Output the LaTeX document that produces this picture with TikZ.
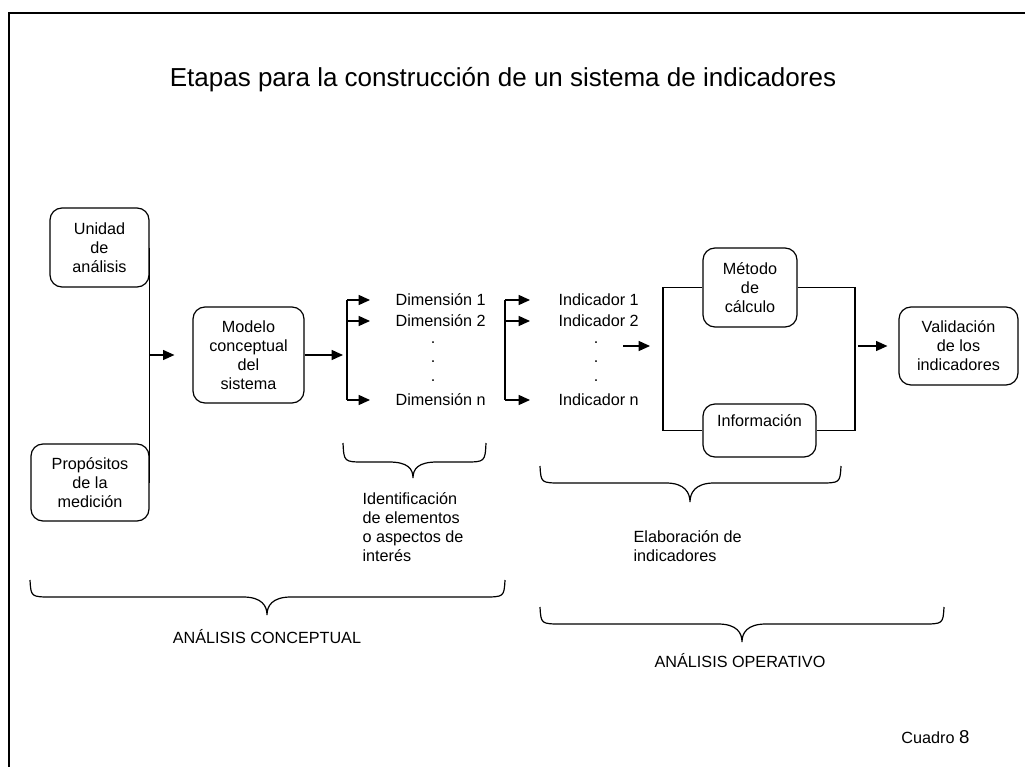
\documentclass[tikz,border=0pt]{standalone}
\usepackage{fontspec}
\setmainfont{Liberation Sans}
\usetikzlibrary{arrows.meta}
\newcommand{\bodyfont}{\fontsize{12.15}{14.3}\selectfont}
% x1, x2, xtip, ytop, ymid, ytip
\newcommand{\curlybrace}[6]{%
  \draw (#1,#4) .. controls (#1+1,#5) .. (#1+22,#5) -- (#3-24,#5)
    .. controls (#3-5,#5) and (#3,#6-9) .. (#3,#6)
    .. controls (#3,#6-9) and (#3+5,#5) .. (#3+24,#5) -- (#2-22,#5)
    .. controls (#2-1,#5) .. (#2,#4);}
\begin{document}
\begin{tikzpicture}[x=0.75pt, y=-0.75pt, line width=0.9pt,
    >={Triangle[length=8.5pt,width=7.5pt]},
    box/.style={draw, rounded corners=9pt, align=center, inner sep=0pt, font=\bodyfont},
    lbl/.style={inner sep=0pt, font=\bodyfont},
    arr/.style={->}]
\useasboundingbox (0,0) rectangle (1025,767);
\draw (9,767) -- (9,13) -- (1025,13);
\node[font=\fontsize{19.5}{23}\selectfont] (title) at (503,80) {Etapas para la construcción de un sistema de indicadores};

\node[box, minimum width=74.25pt, minimum height=59.25pt] (unidad) at (99.5,247.5) {Unidad\\de\\análisis};
\node[box, minimum width=88.5pt, minimum height=57.75pt] (propositos) at (90,482.5) {Propósitos\\de la\\medición};
\node[box, minimum width=83.25pt, minimum height=72pt] (modelo) at (248.5,355) {Modelo\\conceptual\\del\\sistema};
\node[box, minimum width=70.5pt, minimum height=59.25pt] (metodo) at (750,287.5) {Método\\de\\cálculo};
\node[box, minimum width=84.75pt, minimum height=39.75pt] (info) at (759.5,430.5) {Información\\\mbox{}};
\node[box, minimum width=89.25pt, minimum height=58.5pt] (validacion) at (958.5,346) {Validación\\de los\\indicadores};

\draw (unidad.east) -- (propositos.east);
\coordinate (join) at (149,355);
\draw[arr, shorten >=13.5pt] (join) -- (modelo.west);

% dimensiones
\node[lbl, anchor=west] (dim1) at (395,300) {Dimensión 1};
\node[lbl, anchor=west] (dim2) at (395,321) {Dimensión 2};
\node[lbl, anchor=west] (dimn) at (395,400) {Dimensión n};
\foreach \y in {343,362,381}
{
    \node[lbl] (ddot\y) at (433,\y) {.};
}
\coordinate (dimbar) at (347,355);
\draw[arr, shorten >=3pt] (modelo.east) -- (dimbar);
\draw (dimbar |- dim1.west) -- (dimbar |- dimn.west);
\foreach \d in {dim1,dim2,dimn}
{
    \draw[arr, shorten >=18.75pt] (dimbar |- \d.west) -- (\d.west);
}

% indicadores
\node[lbl, anchor=west] (ind1) at (558,300) {Indicador 1};
\node[lbl, anchor=west] (ind2) at (558,321) {Indicador 2};
\node[lbl, anchor=west] (indn) at (558,400) {Indicador n};
\foreach \y in {343,362,381}
{
    \node[lbl] (idot\y) at (596,\y) {.};
}
\coordinate (indbar) at (505,355);
\draw (indbar |- ind1.west) -- (indbar |- indn.west);
\foreach \d in {ind1,ind2,indn}
{
    \draw[arr, shorten >=21pt] (indbar |- \d.west) -- (\d.west);
}
\coordinate (indout) at (623,346);
\coordinate (rectw) at (663,346);
\draw[arr, shorten >=9.75pt] (indout) -- (rectw);

\draw (metodo.west) -| (663,430.5) -- (info.west);
\draw (metodo.east) -| (855,430.5) -- (info.east);
\coordinate (rectout) at (858,346);
\draw[arr, shorten >=8.25pt] (rectout) -- (validacion.west);

% llaves
\curlybrace{343}{486}{413}{443}{462}{478}
\curlybrace{540}{841}{690}{466}{483}{502}
\curlybrace{30}{505}{267}{580}{597}{615}
\curlybrace{540}{944}{742}{607}{624}{642}

\node[lbl, align=left, anchor=west] (ident) at (362,527) {Identificación\\de elementos\\o aspectos de\\interés};
\node[lbl, align=left, anchor=west] (elab) at (633,546) {Elaboración de\\indicadores};
\node[lbl] (conc) at (267,637) {ANÁLISIS CONCEPTUAL};
\node[lbl] (oper) at (740,661) {ANÁLISIS OPERATIVO};
\node[lbl, anchor=east] (cuadro) at (970,737) {Cuadro {\fontsize{14}{14}\selectfont 8}};
\end{tikzpicture}
\end{document}
